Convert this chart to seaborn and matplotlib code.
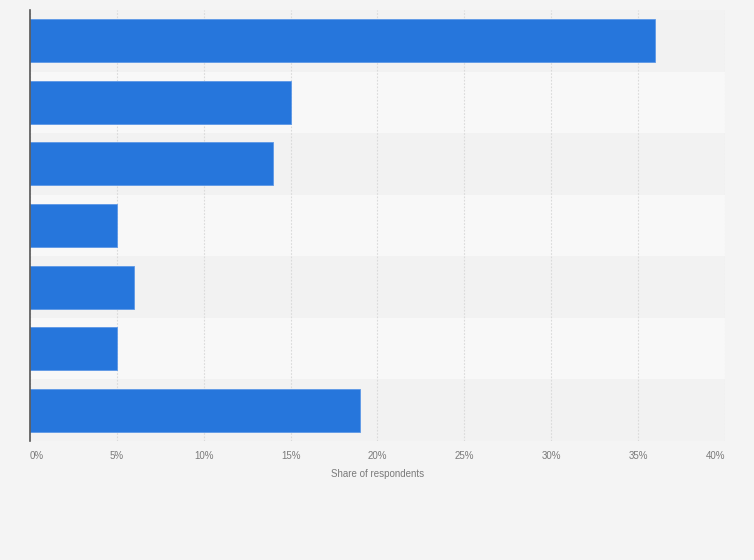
import pandas as pd
import numpy as np
import seaborn as sns
import matplotlib.pyplot as plt

categories = ["Option 1", "Option 2", "Option 3", "Option 4", "Option 5", "Option 6", "Option 7"]
shares = [36, 15, 14, 5, 6, 5, 19]
xticks = [0, 5, 10, 15, 20, 25, 30, 35, 40]
xtickLabels = ["0%", "5%", "10%", "15%", "20%", "25%", "30%", "35%", "40%"]

df = pd.DataFrame({"cat": categories, "share": shares})

sns.set_style("white")
plt.rcParams["font.family"] = ["Liberation Sans", "DejaVu Sans"]

fig = plt.figure(figsize=(7.54, 5.6), dpi=100, facecolor="#f4f4f4")
ax = fig.add_axes([30 / 754, 1 - 441 / 560, 695 / 754, 431 / 560])
ax.set_facecolor("#f4f4f4")

# alternating row bands
for i in range(len(categories)):
    ax.axhspan(i - 0.5, i + 0.5, color="#f2f2f2" if i % 2 == 0 else "#f8f8f8", zorder=0, lw=0)

sns.barplot(ax=ax, data=df, x="share", y="cat", orient="h", color="#2676dc",
            saturation=1, width=0.7, edgecolor="#5d98e6", linewidth=0.6, zorder=3)

ax.set_xlim(0, 40)
ax.set_ylim(len(categories) - 0.5, -0.5)
ax.set_xticks(xticks)
ax.set_xticklabels(xtickLabels, fontsize=7, color="#7a7a7a")
ticklabs = ax.get_xticklabels()
ticklabs[0].set_ha("left")
ticklabs[-1].set_ha("right")
ax.tick_params(axis="x", length=0, pad=7)
ax.set_yticks([])
ax.set_ylabel("")
ax.set_xlabel("Share of respondents", fontsize=7, color="#7a7a7a", labelpad=6)

ax.xaxis.grid(True, linestyle=(0, (1.5, 1.5)), color="#dadada", linewidth=0.8, zorder=1)
ax.set_axisbelow(True)
for s in ["top", "right", "bottom"]:
    ax.spines[s].set_visible(False)
ax.spines["left"].set_color("#555555")
ax.spines["left"].set_linewidth(1.2)
ax.spines["left"].set_zorder(5)

fig.savefig("out.png", dpi=100, facecolor=fig.get_facecolor())
